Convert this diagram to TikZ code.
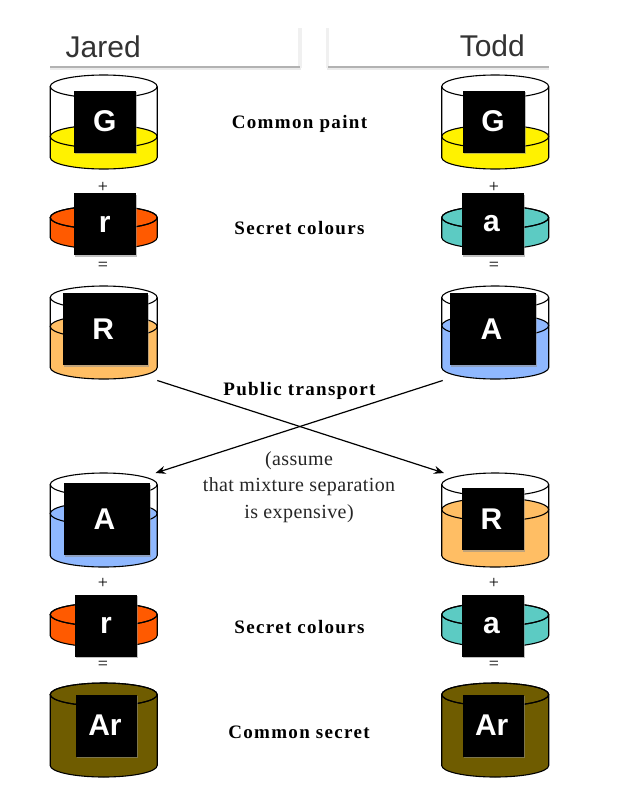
\documentclass[tikz,border=0pt]{standalone}
\usepackage{fontspec}
\setmainfont{Liberation Serif}
\newfontfamily\hdrfont{Liberation Sans}
\usetikzlibrary{arrows.meta,shadows,calc}
\definecolor{cyan1}{HTML}{5CCBC3}
\definecolor{orange1}{HTML}{FF5A00}
\definecolor{peach}{HTML}{FFBE64}
\definecolor{sky}{HTML}{8FB8FF}
\definecolor{ochre}{HTML}{6F5C00}
\tikzset{
  cylline/.style={draw=black,line width=1.1pt},
  card/.style={fill=black,text=white,font=\hdrfont\bfseries\fontsize{30}{34}\selectfont,inner sep=0pt,
     general shadow={shadow xshift=1pt,shadow yshift=-1.5pt,fill=black!45,opacity=.55}},
  captext/.style={font=\bfseries\fontsize{19}{22}\selectfont\addfontfeatures{LetterSpace=7},align=center,inner sep=0pt},
  notetext/.style={font=\fontsize{20}{26.5}\selectfont\addfontfeatures{LetterSpace=2},text=black!85,align=center,inner sep=0pt},
  optext/.style={font=\fontsize{18}{20}\selectfont,inner sep=0pt},
  hdrtext/.style={font=\hdrfont\fontsize{30}{34}\selectfont,text=black!80,inner sep=0pt},
  linkline/.style={draw=black,line width=1.2pt,-{Stealth[length=10pt,width=8pt]}}
}
% #1 centre x, #2 top, #3 bottom, #4 liquid top, #5 colour
\newcommand{\cylvessel}[5]{%
  \pgfmathsetmacro{\rx}{53.5}\pgfmathsetmacro{\ry}{11.5}%
  \pgfmathsetmacro{\yT}{#2+\ry}\pgfmathsetmacro{\yB}{#3-\ry}\pgfmathsetmacro{\yL}{#4+\ry}%
  \fill[white] (#1-\rx,\yT) arc[start angle=180,end angle=360,x radius=\rx,y radius=\ry] -- (#1+\rx,\yB) arc[start angle=0,end angle=180,x radius=\rx,y radius=\ry] -- cycle;
  \fill[#5] (#1-\rx,\yL) arc[start angle=180,end angle=360,x radius=\rx,y radius=\ry] -- (#1+\rx,\yB) arc[start angle=0,end angle=180,x radius=\rx,y radius=\ry] -- cycle;
  \draw[cylline] (#1,\yL) ellipse[x radius=\rx,y radius=\ry];
  \draw[cylline] (#1,\yT) ellipse[x radius=\rx,y radius=\ry];
  \draw[cylline] (#1-\rx,\yT) -- (#1-\rx,\yB) arc[start angle=180,end angle=0,x radius=\rx,y radius=\ry] -- (#1+\rx,\yT);
}
% #1 name, #2 x0, #3 y0, #4 x1, #5 y1, #6 label
\newcommand{\cardnode}[6]{%
  \node[card,minimum width=#4pt-#2pt,minimum height=#5pt-#3pt] (#1) at ({(#2+#4)/2},{(#3+#5)/2}) {\raisebox{-1.5pt}{#6}};
}
\begin{document}
\begin{tikzpicture}[x=1pt,y=-1pt]
\useasboundingbox (0,0) rectangle (625,811);
\fill[white] (0,0) rectangle (625,811);
% headers
\fill[black!6] (298,28) rectangle (301.5,68);
\fill[black!6] (326,28) rectangle (328.5,68);
\fill[black!8] (50,68) rectangle (301,69.5);
\fill[black!8] (327,68) rectangle (549,69.5);
\fill[black!30] (50,66.3) rectangle (300,68);
\fill[black!30] (328,66.3) rectangle (549,68);
\node[hdrtext,anchor=base west] (jared) at (65.5,57) {Jared};
\node[hdrtext,anchor=base east] (todd) at (525,56.5) {Todd};
% left column
\cylvessel{103.7}{75}{169}{125}{yellow}
\cardnode{cG1}{73.5}{90.5}{136}{152.5}{G}
\cylvessel{103.7}{206}{249}{206}{orange1}
\cardnode{cr1}{73.5}{193}{136}{255}{r}
\cylvessel{103.7}{286}{379}{315}{peach}
\cardnode{cR1}{62.5}{293}{148}{365}{\kern-4pt R}
\cylvessel{103.7}{473}{567}{502}{sky}
\cardnode{cA1}{63.5}{483}{149.5}{555}{\kern-4pt A}
\cylvessel{103.7}{603}{647}{603}{orange1}
\cardnode{cr2}{75}{594.5}{137}{656.5}{r}
\cylvessel{103.7}{683}{777}{683}{ochre}
\cardnode{cAr1}{76}{694.5}{137}{756.5}{\kern-3pt Ar}
% right column
\cylvessel{495.2}{75}{169}{125}{yellow}
\cardnode{cG2}{462.5}{90.5}{524.5}{152.5}{\kern-1pt G}
\cylvessel{495.2}{206}{249}{206}{cyan1}
\cardnode{ca1}{461.5}{193}{523.5}{255}{\kern-2pt a}
\cylvessel{495.2}{286}{379}{314}{sky}
\cardnode{cA2}{450}{293}{536}{365}{\kern-3pt A}
\cylvessel{495.2}{473}{567}{498}{peach}
\cardnode{cR2}{461.5}{488}{523.5}{550}{\kern-2pt R}
\cylvessel{495.2}{603}{647}{603}{cyan1}
\cardnode{ca2}{461.5}{594.5}{523.5}{656.5}{\kern-2pt a}
\cylvessel{495.2}{683}{777}{683}{ochre}
\cardnode{cAr2}{462.7}{694.5}{523.7}{756.5}{\kern-3pt Ar}
% operators
\node[optext] (p1) at (103,187) {+};
\node[optext] (e1) at (103,266.5) {=};
\node[optext] (p2) at (494,187) {+};
\node[optext] (e2) at (494,266.5) {=};
\node[optext] (p3) at (103,583.5) {+};
\node[optext] (e3) at (103,665) {=};
\node[optext] (p4) at (494,583.5) {+};
\node[optext] (e4) at (494,665) {=};
% captions
\node[captext] (t1) at (299.5,124) {Common paint};
\node[captext] (t2) at (299.5,228) {Secret colours};
\node[captext] (t3) at (299.5,391) {Public transport};
\node[notetext] (t4) at (299,487) {(assume\\that mixture separation\\is expensive)};
\node[captext] (t5) at (299.5,627.5) {Secret colours};
\node[captext] (t6) at (299,732) {Common secret};
% connectors
\coordinate (fromR) at (157.3,380.5);
\coordinate (toR) at (444,473);
\coordinate (fromA) at (442.7,380.5);
\coordinate (toA) at (155.5,473);
\draw[linkline] (fromR) -- (toR);
\draw[linkline] (fromA) -- (toA);
\end{tikzpicture}
\end{document}
